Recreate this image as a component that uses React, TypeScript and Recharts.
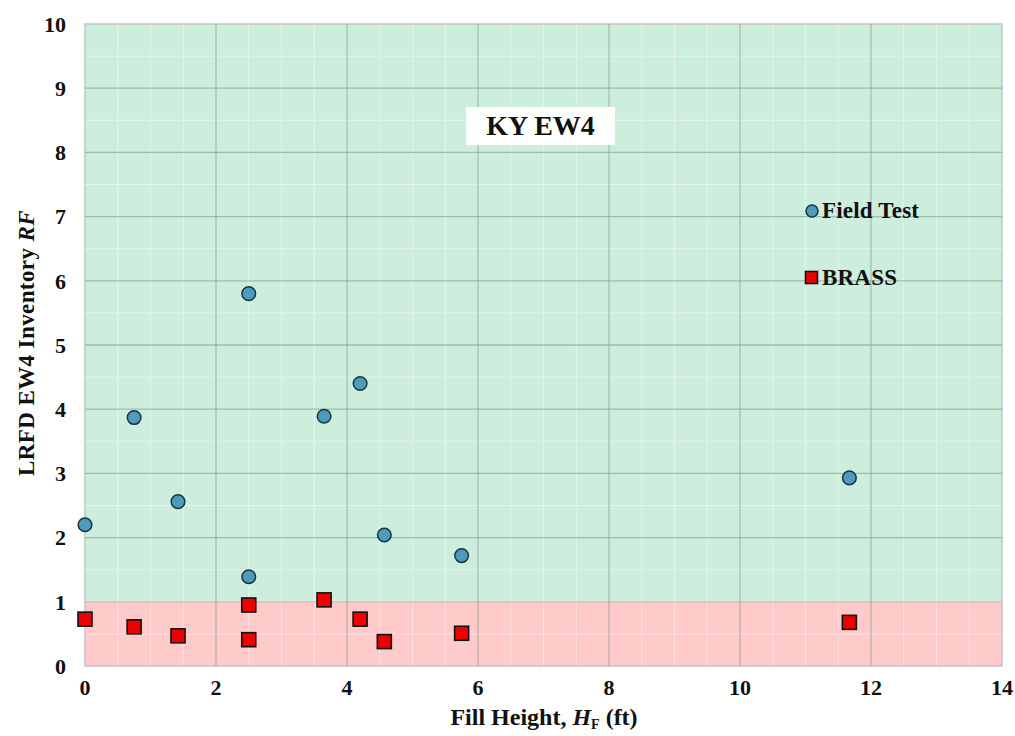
import React from 'react';
import {
  ScatterChart,
  Scatter,
  XAxis,
  YAxis,
  ReferenceArea,
  ReferenceLine,
} from 'recharts';

// fill height (ft) for each culvert
const fillHeight = [0, 0.75, 1.42, 2.5, 2.5, 3.65, 4.2, 4.57, 5.75, 11.67];
// rating factors
const fieldTestRF = [2.2, 3.87, 2.56, 5.8, 1.39, 3.89, 4.4, 2.04, 1.72, 2.93];
const brassRF = [0.73, 0.61, 0.47, 0.95, 0.41, 1.03, 0.73, 0.38, 0.51, 0.68];

const xTicks = [0, 2, 4, 6, 8, 10, 12, 14];
const yTicks = [0, 1, 2, 3, 4, 5, 6, 7, 8, 9, 10];
const minorX = [0.5, 1, 1.5, 2.5, 3, 3.5, 4.5, 5, 5.5, 6.5, 7, 7.5, 8.5, 9, 9.5, 10.5, 11, 11.5, 12.5, 13, 13.5];
const minorY = [0.5, 1.5, 2.5, 3.5, 4.5, 5.5, 6.5, 7.5, 8.5, 9.5];

const fieldData = fillHeight.map((x, i) => ({ x, y: fieldTestRF[i] }));
const brassData = fillHeight.map((x, i) => ({ x, y: brassRF[i] }));

const font = '"Liberation Serif", "Times New Roman", serif';

const Dot = (props: any) => {
  const { cx, cy } = props;
  return <circle cx={cx} cy={cy} r={6.8} fill="#4b9cbd" stroke="#1d3340" strokeWidth={1.5} />;
};

const Box = (props: any) => {
  const { cx, cy } = props;
  return <rect x={cx - 7} y={cy - 7} width={14} height={14} fill="#ee0000" stroke="#111" strokeWidth={1.6} />;
};

const LegendBox = () => (
  <div
    style={{
      position: 'absolute',
      left: 804,
      top: 195,
      fontFamily: font,
      fontWeight: 'bold',
      fontSize: 23,
      letterSpacing: 0.2,
      color: '#111',
    }}
  >
    <div style={{ display: 'flex', alignItems: 'center', height: 32 }}>
      <svg width={16} height={16} style={{ marginRight: 2 }}>
        <circle cx={8} cy={8} r={6} fill="#4b9cbd" stroke="#1d3340" strokeWidth={1.5} />
      </svg>
      Field Test
    </div>
    <div style={{ display: 'flex', alignItems: 'center', height: 32, marginTop: 35 }}>
      <svg width={16} height={16} style={{ marginRight: 2 }}>
        <rect x={1.5} y={1.5} width={12} height={12} fill="#ee0000" stroke="#111" strokeWidth={1.6} />
      </svg>
      BRASS
    </div>
  </div>
);

const tickStyle = { fontFamily: font, fontWeight: 'bold', fontSize: 22, fill: '#111' };

export default function App() {
  return (
    <div style={{ position: 'relative', width: 1015, height: 736, background: '#fff', overflow: 'hidden' }}>
      <style>{'html,body{margin:0;padding:0;overflow:hidden;}'}</style>
      <ScatterChart width={1015} height={736} margin={{ top: 24, right: 13, bottom: 0, left: 0 }}>
        <XAxis
          type="number"
          dataKey="x"
          domain={[0, 14]}
          ticks={xTicks}
          tickLine={false}
          axisLine={false}
          tickSize={0}
          tickMargin={13}
          height={70}
          tick={tickStyle}
        />
        <YAxis
          type="number"
          dataKey="y"
          domain={[0, 10]}
          ticks={yTicks}
          tickLine={false}
          axisLine={false}
          tickSize={0}
          tickMargin={19}
          width={85}
          tick={tickStyle}
        />
        <ReferenceArea x1={0} x2={14} y1={1} y2={10} fill="#cdeedc" fillOpacity={1} stroke="none" />
        <ReferenceArea x1={0} x2={14} y1={0} y2={1} fill="#ffcaca" fillOpacity={1} stroke="none" />
        {minorX.map((v) => (
          <ReferenceLine key={'mx' + v} x={v} stroke="#ffffff" strokeOpacity={0.4} strokeWidth={1} />
        ))}
        {minorY.map((v) => (
          <ReferenceLine key={'my' + v} y={v} stroke="#ffffff" strokeOpacity={0.4} strokeWidth={1} />
        ))}
        {xTicks.slice(1, -1).map((v) => (
          <ReferenceLine key={'x' + v} x={v} stroke="#7f9a8a" strokeOpacity={0.55} strokeWidth={1.3} />
        ))}
        {yTicks.slice(1, -1).map((v) => (
          <ReferenceLine key={'y' + v} y={v} stroke={v === 1 ? '#d99a9a' : '#7f9a8a'} strokeOpacity={0.6} strokeWidth={1.3} />
        ))}
        <ReferenceArea x1={0} x2={14} y1={0} y2={10} fill="none" stroke="#c4c4c4" strokeWidth={1.5} />
        <Scatter name="Field Test" data={fieldData} shape={<Dot />} isAnimationActive={false} />
        <Scatter name="BRASS" data={brassData} shape={<Box />} isAnimationActive={false} />
      </ScatterChart>

      <LegendBox />

      <div
        style={{
          position: 'absolute',
          left: 466,
          top: 107,
          width: 149,
          height: 38,
          background: '#fff',
          fontFamily: font,
          fontWeight: 'bold',
          fontSize: 28,
          color: '#111',
          display: 'flex',
          alignItems: 'center',
          justifyContent: 'center',
        }}
      >
        KY EW4
      </div>

      <div
        style={{
          position: 'absolute',
          left: 27,
          top: 343,
          transform: 'translate(-50%, -50%) rotate(-90deg)',
          whiteSpace: 'nowrap',
          fontFamily: font,
          fontWeight: 'bold',
          fontSize: 23,
          letterSpacing: 0.4,
          color: '#111',
        }}
      >
        LRFD EW4 Inventory <i>RF</i>
      </div>

      <div
        style={{
          position: 'absolute',
          left: 544,
          top: 704,
          transform: 'translateX(-50%)',
          whiteSpace: 'nowrap',
          fontFamily: font,
          fontWeight: 'bold',
          fontSize: 24,
          lineHeight: '26px',
          color: '#111',
        }}
      >
        Fill Height, <i>H</i>
        <span style={{ fontSize: 14, position: 'relative', top: 4 }}>F</span> (ft)
      </div>
    </div>
  );
}
